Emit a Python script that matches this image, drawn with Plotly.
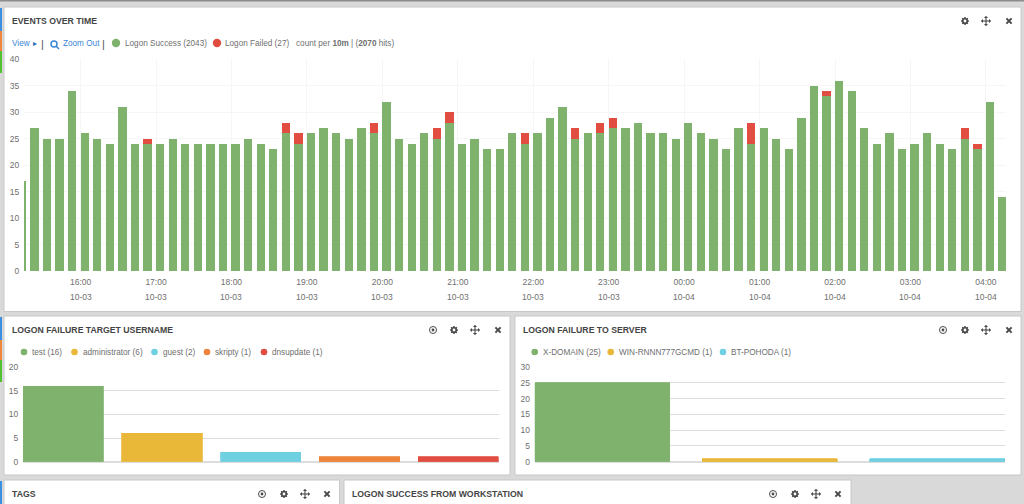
import pandas as pd
import plotly.graph_objects as go

W, H = 1024, 504

# events over time, one bucket every 10 minutes starting 15:10
logon_success = [17, 27, 25, 25, 34, 26, 25, 24, 31, 24, 24, 24, 25, 24, 24, 24, 24, 24, 25, 24,
                 23, 26, 24, 26, 27, 26, 25, 27, 26, 32, 25, 24, 26, 25, 28, 24, 25, 23, 23, 26,
                 24, 26, 29, 31, 25, 26, 26, 27, 27, 28, 26, 26, 25, 28, 26, 25, 23, 27, 24, 27,
                 25, 23, 29, 35, 33, 36, 34, 27, 24, 26, 23, 24, 26, 24, 23, 25, 23, 32, 14]
logon_failed = [0, 0, 0, 0, 0, 0, 0, 0, 0, 0, 1, 0, 0, 0, 0, 0, 0, 0, 0, 0,
                0, 2, 2, 0, 0, 0, 0, 0, 2, 0, 0, 0, 0, 2, 2, 0, 0, 0, 0, 0,
                2, 0, 0, 0, 2, 0, 2, 2, 0, 0, 0, 0, 0, 0, 0, 0, 0, 0, 4, 0,
                0, 0, 0, 0, 1, 0, 0, 0, 0, 0, 0, 0, 0, 0, 0, 2, 1, 0, 0]
buckets = pd.date_range("2015-10-03 15:10", periods=len(logon_success), freq="10min")

tick_times = pd.date_range("2015-10-03 16:00", "2015-10-04 04:00", freq="1h")
tick_hours = ["16:00", "17:00", "18:00", "19:00", "20:00", "21:00", "22:00",
              "23:00", "00:00", "01:00", "02:00", "03:00", "04:00"]
tick_dates = ["10-03"] * 8 + ["10-04"] * 5

usernames = ["test", "administrator", "guest", "skripty", "dnsupdate"]
username_counts = [16, 6, 2, 1, 1]
servers = ["X-DOMAIN", "WIN-RNNN777GCMD", "BT-POHODA"]
server_counts = [25, 1, 1]

GREEN, YELLOW, CYAN, ORANGE, RED = "#7eb26d", "#eab839", "#6ed0e0", "#ef843c", "#e24d42"
palette = [GREEN, YELLOW, CYAN, ORANGE, RED]
BG = "#d9d9d9"
TEXT = "#6f6f6f"
TITLE = "#444444"
ICON = "#4a4a4a"
FONT = "Liberation Sans"
TEXT_SIZE = 8.2
TICK_SIZE = 8.5


def px(x):
    return x / W


def py(y):
    return 1 - y / H


shapes = []
annotations = []


def rect(x0, y0, x1, y1, color, line=None):
    shapes.append(dict(type="rect", xref="paper", yref="paper", layer="below",
                       x0=px(x0), x1=px(x1), y0=py(y0), y1=py(y1), fillcolor=color,
                       line=dict(color=line, width=1) if line else dict(width=0)))


def dot(x, y, r, color):
    shapes.append(dict(type="circle", xref="paper", yref="paper", layer="above",
                       x0=px(x - r), x1=px(x + r), y0=py(y - r), y1=py(y + r),
                       fillcolor=color, line=dict(width=0)))


def stroke(x0, y0, x1, y1, color, width):
    shapes.append(dict(type="line", xref="paper", yref="paper", layer="above",
                       x0=px(x0), x1=px(x1), y0=py(y0), y1=py(y1),
                       line=dict(color=color, width=width)))


def triangle(points):
    path = "M " + " L ".join(f"{px(x):.5f} {py(y):.5f}" for x, y in points) + " Z"
    shapes.append(dict(type="path", xref="paper", yref="paper", layer="above", path=path,
                       fillcolor=ICON, line=dict(width=0)))


def label(x, y, text, size=TEXT_SIZE, color=TEXT, anchor="left", family=FONT):
    annotations.append(dict(xref="paper", yref="paper", x=px(x), y=py(y), text=text,
                            showarrow=False, xanchor=anchor, yanchor="middle",
                            font=dict(size=size, color=color, family=family),
                            borderpad=0, borderwidth=0))


# panel icons, drawn small as in the dashboard toolbar
def gear_icon(x, y):
    for dx, dy in [(3.9, 0), (0, 3.9), (2.8, 2.8), (2.8, -2.8)]:
        stroke(x - dx, y - dy, x + dx, y + dy, ICON, 1.5)
    dot(x, y, 3.1, ICON)
    dot(x, y, 1.4, "white")


def move_icon(x, y):
    stroke(x - 4, y, x + 4, y, ICON, 1.1)
    stroke(x, y - 4, x, y + 4, ICON, 1.1)
    triangle([(x - 5.2, y), (x - 3, y - 2), (x - 3, y + 2)])
    triangle([(x + 5.2, y), (x + 3, y - 2), (x + 3, y + 2)])
    triangle([(x, y - 5.2), (x - 2, y - 3), (x + 2, y - 3)])
    triangle([(x, y + 5.2), (x - 2, y + 3), (x + 2, y + 3)])


def close_icon(x, y):
    stroke(x - 2.6, y - 2.6, x + 2.6, y + 2.6, ICON, 2)
    stroke(x - 2.6, y + 2.6, x + 2.6, y - 2.6, ICON, 2)


def target_icon(x, y):
    shapes.append(dict(type="circle", xref="paper", yref="paper", layer="above",
                       x0=px(x - 3.5), x1=px(x + 3.5), y0=py(y - 3.5), y1=py(y + 3.5),
                       line=dict(color=ICON, width=1)))
    dot(x, y, 1.4, ICON)


def panel(x0, y0, x1, y1, title, title_y, icons):
    rect(x0, y0, x1, y1, "white", "#c8c8c8")
    rect(0, y0 + 1, 2, min(y0 + 24, H), "#3a8fe0")
    if y0 + 24 < H:
        rect(0, y0 + 24, 2, y0 + 44, "#f0883c")
        rect(0, y0 + 44, 2, y0 + 66, "#52c234")
    label(x0 + 8, title_y, f"<b>{title}</b>", size=8.7, color=TITLE)
    for ix, draw in icons:
        draw(ix, title_y)


rect(0, 0, W, H, BG)
rect(0, 0, W, 1.5, "#8c8c8c")
panel(4, 7, 1021, 311.5, "EVENTS OVER TIME", 21,
      [(965, gear_icon), (986, move_icon), (1009, close_icon)])
panel(4, 316, 510, 475, "LOGON FAILURE TARGET USERNAME", 330,
      [(433, target_icon), (454, gear_icon), (475, move_icon), (498, close_icon)])
panel(515, 316, 1021, 475, "LOGON FAILURE TO SERVER", 330,
      [(943, target_icon), (965, gear_icon), (986, move_icon), (1009, close_icon)])
panel(4, 480, 339.5, 510, "TAGS", 494,
      [(262, target_icon), (284, gear_icon), (305, move_icon), (327, close_icon)])
panel(344, 480, 851, 510, "LOGON SUCCESS FROM WORKSTATION", 494,
      [(773, target_icon), (795, gear_icon), (816, move_icon), (838, close_icon)])

# top panel toolbar
BLUE = "#3a87d6"
label(12, 43.5, "View", color=BLUE)
label(35, 43.5, "▸", size=8, color="#2a6fb5", anchor="center", family="DejaVu Sans")
label(42, 43.5, "|", size=11, color="#555555", anchor="center")
shapes.append(dict(type="circle", xref="paper", yref="paper", layer="above",
                   x0=px(51), x1=px(57), y0=py(41), y1=py(47), line=dict(color=BLUE, width=1.5)))
stroke(56, 46, 59, 49, BLUE, 1.5)
label(62.5, 43.5, "Zoom Out", color=BLUE)
label(103, 43.5, "|", size=11, color="#555555", anchor="center")
dot(116, 43, 4.2, GREEN)
label(124.5, 43.5, f"Logon Success ({sum(logon_success)})")
dot(217, 43, 4.2, RED)
label(225, 43.5, f"Logon Failed ({sum(logon_failed)})")
label(296, 43.5, f"count per <b>10m</b> | (<b>{sum(logon_success) + sum(logon_failed)}</b> hits)")

# legends of the small panels
for x_dot, x_text, name, count, color in zip([24, 74.5, 154.5, 207, 264], [32, 83, 163, 215, 272],
                                             usernames, username_counts, palette):
    dot(x_dot, 352, 3.3, color)
    label(x_text, 352.5, f"{name} ({count})")
for x_dot, x_text, name, count, color in zip([534.7, 610.7, 723], [542.7, 618.7, 730.7],
                                             servers, server_counts, palette):
    dot(x_dot, 352, 3.3, color)
    label(x_text, 352.5, f"{name} ({count})")

for when, day in zip(tick_times, tick_dates):
    annotations.append(dict(xref="x", yref="paper", x=when, y=py(297), text=day, showarrow=False,
                            yanchor="middle", font=dict(size=TICK_SIZE, color=TEXT, family=FONT)))

fig = go.Figure()

bar_ms = 6.6 * 60000
fig.add_trace(go.Bar(x=buckets, y=logon_success, name="Logon Success", marker=dict(color=GREEN, line_width=0),
                     width=bar_ms, offset=0, xaxis="x", yaxis="y"))
fig.add_trace(go.Bar(x=buckets, y=logon_failed, name="Logon Failed", marker=dict(color=RED, line_width=0),
                     width=bar_ms, offset=0, xaxis="x", yaxis="y"))
fig.add_trace(go.Bar(x=usernames, y=username_counts,
                     marker=dict(color=palette, line=dict(color=palette, width=0.8)),
                     width=0.815, xaxis="x2", yaxis="y2"))
fig.add_trace(go.Bar(x=servers, y=server_counts,
                     marker=dict(color=palette[:3], line=dict(color=palette[:3], width=0.8)),
                     width=0.807, xaxis="x3", yaxis="y3"))

tick_font = dict(size=TICK_SIZE, color=TEXT, family=FONT)
y_ticks = dict(ticks="outside", ticklen=2, tickcolor="rgba(0,0,0,0)")
fig.update_layout(
    width=W, height=H, margin=dict(l=0, r=0, t=0, b=0, pad=0), autosize=False,
    paper_bgcolor=BG, plot_bgcolor="rgba(0,0,0,0)", barmode="stack", showlegend=False,
    font=dict(family=FONT), shapes=shapes, annotations=annotations,
    xaxis=dict(domain=[px(24), px(1006)], type="date", anchor="y", automargin=False,
               range=["2015-10-03 15:15", "2015-10-04 04:16"],
               tickmode="array", tickvals=list(tick_times), ticktext=tick_hours,
               tickfont=tick_font, showgrid=True, gridcolor="#f6f6f6", gridwidth=1, zeroline=False,
               showline=False, ticks="outside", ticklen=3, tickcolor="rgba(0,0,0,0)"),
    yaxis=dict(domain=[py(271), py(59.4)], anchor="x", automargin=False, range=[0, 40], dtick=5,
               tickfont=tick_font, showgrid=True, gridcolor="#f6f6f6", gridwidth=1, zeroline=False,
               **y_ticks),
    xaxis2=dict(domain=[px(23), px(498.5)], anchor="y2", automargin=False, type="category",
                range=[-0.4075, 4.4075], showticklabels=False, showgrid=False, ticks=""),
    yaxis2=dict(domain=[py(461.7), py(367.3)], anchor="x2", automargin=False, range=[0, 20], dtick=5,
                tickfont=tick_font, showgrid=True, gridcolor="#dddddd", gridwidth=1, zeroline=True,
                zerolinecolor="#dddddd", **y_ticks),
    xaxis3=dict(domain=[px(534.7), px(1005)], anchor="y3", automargin=False, type="category",
                range=[-0.4035, 2.4035], showticklabels=False, showgrid=False, ticks=""),
    yaxis3=dict(domain=[py(461.7), py(367)], anchor="x3", automargin=False, range=[0, 30], dtick=5,
                tickfont=tick_font, showgrid=True, gridcolor="#dddddd", gridwidth=1, zeroline=True,
                zerolinecolor="#dddddd", **y_ticks),
)

fig.write_html("out.html", config=dict(displayModeBar=False),
               post_script="document.body.style.margin='0';")
